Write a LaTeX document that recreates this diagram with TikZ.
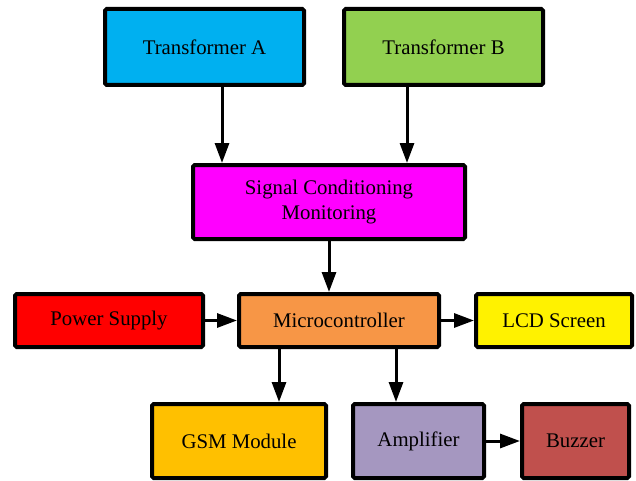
\documentclass[tikz,border=0pt]{standalone}
\usepackage{fontspec}
\setmainfont{Liberation Serif}
\usetikzlibrary{arrows.meta}
\definecolor{tacyan}{HTML}{00B0F0}
\definecolor{tbgreen}{HTML}{92D050}
\definecolor{scmagenta}{HTML}{FF00FF}
\definecolor{mcorange}{HTML}{F79646}
\definecolor{gsmgold}{HTML}{FFC000}
\definecolor{amplilac}{HTML}{A597C0}
\definecolor{buzred}{HTML}{C0504D}
\tikzset{
  blockbox/.style={draw=black,line width=2pt,rounded corners=0.8pt,
    minimum height=26.5pt,inner sep=2pt,align=center,
    font=\rmfamily\fontsize{10.4}{12.5}\selectfont},
  flow/.style={line width=1.5pt,-{Triangle[length=10pt,width=7pt]}}
}
\begin{document}
\begin{tikzpicture}[x=0.5pt,y=-0.5pt]
\useasboundingbox (0,0) rectangle (636,481);
\node[blockbox,fill=tacyan,minimum width=99.5pt,minimum height=38pt] (transA) at (204.5,47) {Transformer A};
\node[blockbox,fill=tbgreen,minimum width=99.5pt,minimum height=38pt] (transB) at (443.5,47) {Transformer B};
\node[blockbox,fill=scmagenta,minimum width=136pt,minimum height=37pt] (signal) at (329,202) {Signal Conditioning\\Monitoring};
\node[blockbox,fill=red,minimum width=94pt] (power) at (109,320.5) {Power Supply};
\node[blockbox,fill=mcorange,minimum width=100pt] (micro) at (339,320.5) {Microcontroller};
\node[blockbox,fill=yellow,minimum width=78pt] (lcd) at (554,320.5) {LCD Screen};
\node[blockbox,fill=gsmgold,minimum width=87pt,minimum height=37pt] (gsm) at (239,441) {GSM Module};
\node[blockbox,fill=amplilac,minimum width=65.5pt,minimum height=37pt] (amp) at (418.5,441) {\raisebox{-1.5pt}{Amplifier}};
\node[blockbox,fill=buzred,minimum width=53.5pt,minimum height=37pt] (buzzer) at (575.5,441) {Buzzer};
% connections
\draw[flow] ([xshift=8.75pt]transA.south) -- ([xshift=8.75pt]transA.south |- signal.north);
\draw[flow] ([xshift=-18.25pt]transB.south) -- ([xshift=-18.25pt]transB.south |- signal.north);
\draw[flow] (signal.south) -- (signal.south |- micro.north);
\draw[flow] (power.east) -- (micro.west);
\draw[flow] (micro.east) -- (lcd.west);
\draw[flow] ([xshift=-30pt]micro.south) -- ([xshift=-30pt]micro.south |- gsm.north);
\draw[flow] ([xshift=28.5pt]micro.south) -- ([xshift=28.5pt]micro.south |- amp.north);
\draw[flow] (amp.east) -- (buzzer.west);
\end{tikzpicture}
\end{document}
